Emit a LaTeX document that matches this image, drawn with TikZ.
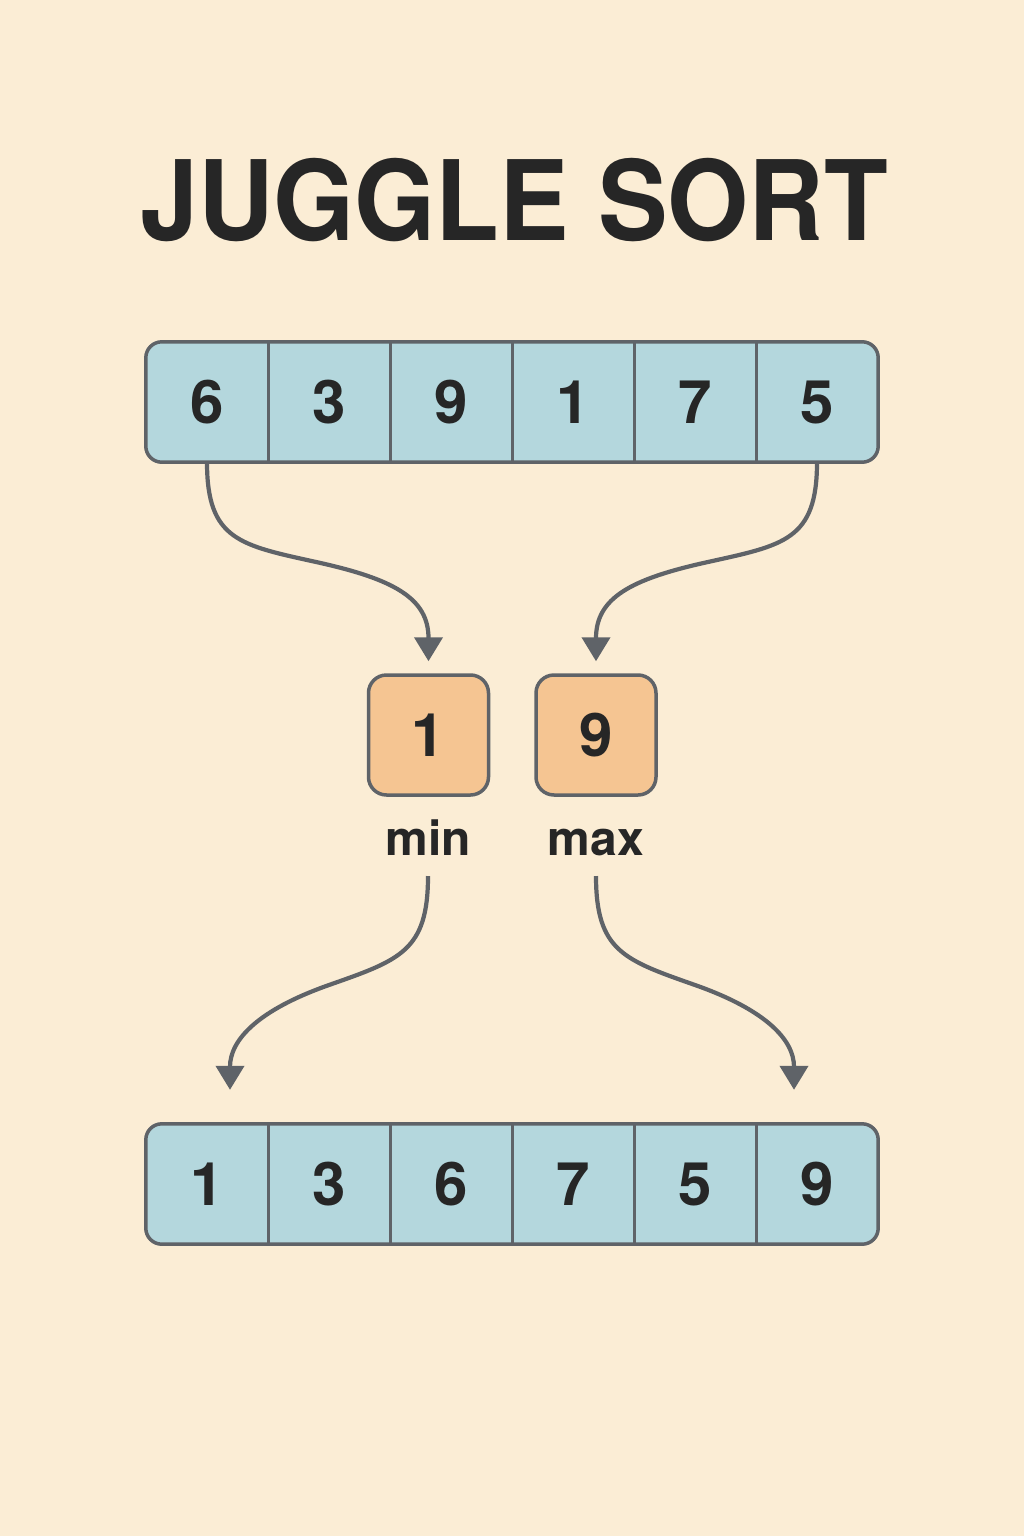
\documentclass[tikz,border=0pt]{standalone}
\usepackage{fontspec}
\setmainfont{TeX Gyre Heros}
\usepackage{graphicx}
\usepackage{tikz}
\usetikzlibrary{arrows.meta,backgrounds}
\definecolor{paper}{HTML}{FBEDD5}
\definecolor{cellblue}{HTML}{B4D7DD}
\definecolor{boxorange}{HTML}{F5C592}
\definecolor{edge}{HTML}{5F6368}
\definecolor{ink}{HTML}{262626}
\tikzset{
  cell/.style={minimum width=122pt,minimum height=120pt,inner sep=0pt,text=ink,
    font=\fontsize{60}{60}\selectfont\bfseries},
  slot/.style={draw=edge,fill=boxorange,line width=3.5pt,rounded corners=18pt,
    minimum size=120pt,inner sep=0pt,text=ink,font=\fontsize{60}{60}\selectfont\bfseries},
  tag/.style={text=ink,font=\fontsize{48}{48}\selectfont\bfseries,anchor=base},
  conn/.style={draw=edge,line width=4.2pt,-{Triangle[length=24pt,width=28pt]}},
  arrbox/.style={draw=edge,fill=cellblue,line width=3.5pt,rounded corners=16pt},
}

\begin{document}
\begin{tikzpicture}[x=1pt,y=-1pt]
        \useasboundingbox (0,0) rectangle (1024,1536);
        \node[text=ink,font=\fontsize{111}{111}\selectfont\bfseries] (title) at (514,200)
          {\scalebox{0.94}[1]{JUGGLE SORT}};
        % input and output rows
        \foreach \v [count=\i] in {6,3,9,1,7,5}
          \node[cell] (t\i) at ({85+122*\i},402) {\v};
        \foreach \v [count=\i] in {1,3,6,7,5,9}
          \node[cell] (b\i) at ({85+122*\i},1184) {\v};
        % min and max
        \node[slot] (mn) at (428.5,735) {1};
        \node[slot] (mx) at (596,735) {9};
        \node[tag] (lmin) at (428,855) {min};
        \node[tag] (lmax) at (596,855) {max};
        \begin{scope}[on background layer]
          \fill[paper] (0,0) rectangle (1024,1536);
          \path[arrbox] (t1.north west) rectangle (t6.south east);
          \path[arrbox] (b1.north west) rectangle (b6.south east);
          \foreach \i in {1,...,5} {
            \draw[edge,line width=3pt] (t\i.north east) -- (t\i.south east);
            \draw[edge,line width=3pt] (b\i.north east) -- (b\i.south east);
          }
        \end{scope}
        % picking
        \draw[conn,shorten >=12pt] (t1.south) .. controls +(0,78) and +(-77,-17) .. ++(110,100)
          .. controls +(77,17) and +(0,-75) .. (mn.north);
        \draw[conn,shorten >=12pt] (t6.south) .. controls +(0,78) and +(77,-17) .. ++(-110,100)
          .. controls +(-77,17) and +(0,-75) .. (mx.north);
        % placing
        \draw[conn,shorten >=34pt] ([yshift=-21pt]lmin.base) .. controls +(0,75) and +(71,-25) .. ++(-99,109)
          .. controls +(-71,25) and +(0,-84) .. ([xshift=23pt]b1.north);
        \draw[conn,shorten >=34pt] ([yshift=-21pt]lmax.base) .. controls +(0,75) and +(-71,-25) .. ++(99,109)
          .. controls +(71,25) and +(0,-84) .. ([xshift=-23pt]b6.north);
      \end{tikzpicture}
\end{document}
